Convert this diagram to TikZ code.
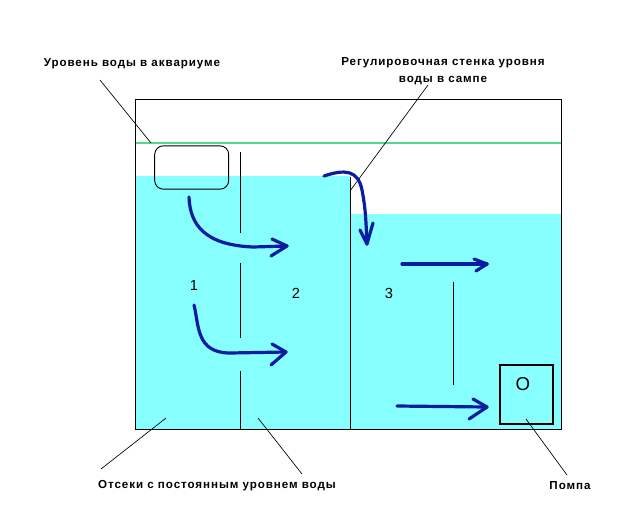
\documentclass[tikz,border=0pt]{standalone}
\usepackage{fontspec}
\setmainfont{Liberation Sans}
\newfontfamily\labelfont[LetterSpace=8]{Liberation Sans Bold}
\definecolor{water}{RGB}{136,255,255}
\definecolor{levelgreen}{RGB}{80,216,140}
\definecolor{flow}{RGB}{10,28,160}
\tikzset{
 px/.style={x=0.75pt,y=-0.75pt},
 thinline/.style={draw=black,line width=0.7pt},
 leader/.style={draw=black,line width=0.5pt},
 flowline/.style={draw=flow,line width=2.4pt,line cap=round,line join=round},
 caption/.style={font=\labelfont\fontsize{8.7pt}{10pt}\selectfont,text=black,inner sep=0pt,align=center},
 num/.style={font=\fontsize{11pt}{13pt}\selectfont,text=black,inner sep=0pt},
}
\begin{document}
\begin{tikzpicture}[px]
\useasboundingbox (0,0) rectangle (640,512);
% water
\fill[water] (136,176) rectangle (350,429);
\fill[water] (350,214) rectangle (561,429);
% tank
\draw[thinline] (135.5,99) rectangle (561,429);
\draw[levelgreen,line width=2pt] (136,143) -- (561,143);
\node[draw=black,line width=0.7pt,rounded corners=6.5pt,minimum width=55.5pt,minimum height=32.5pt,inner sep=0pt] (skimmer) at (191.7,167.5) {};
% partitions
\draw[thinline] (240.5,152) -- (240.5,233);
\draw[thinline] (240.5,263) -- (240.5,338);
\draw[thinline] (240.5,371) -- (240.5,429);
\draw[thinline] (350.5,177) -- (350.5,429);
\draw[thinline] (453.5,282) -- (453.5,385);
% pump
\node[draw=black,line width=1.3pt,minimum width=39.5pt,minimum height=44pt,inner sep=0pt] (pump) at (526.5,394.5) {};
\node[font=\fontsize{14pt}{16pt}\selectfont,inner sep=0pt] (pumpO) at (523,384) {O};
% numbers
\node[num] (n1) at (194,285) {1};
\node[num] (n2) at (296,293) {2};
\node[num] (n3) at (389,293) {3};
% captions
\node[caption] (capA) at (132,63.5) {Уровень воды в аквариуме};
\node[caption] (capB) at (443,71.5) {Регулировочная стенка уровня\\[2.7pt]воды в сампе};
\node[caption] (capC) at (217,485.5) {Отсеки с постоянным уровнем воды};
\node[caption] (capD) at (570,485.5) {Помпа};
% leaders
\coordinate (a0) at (100,80); \coordinate (a1) at (151,143);
\coordinate (b0) at (428,85); \coordinate (b1) at (350,191);
\coordinate (c0) at (101,469); \coordinate (c1) at (166,418);
\coordinate (d0) at (302,474); \coordinate (d1) at (258,418);
\coordinate (e0) at (567,475); \coordinate (e1) at (526,419);
\draw[leader] (a0)--(a1);
\draw[leader] (b0)--(b1);
\draw[leader] (c0)--(c1);
\draw[leader] (d0)--(d1);
\draw[leader] (e0)--(e1);
% flows
\draw[flowline] (189,197) .. controls (190,225) and (205,245) .. (253,247) -- (287,246);
\draw[flowline] (272,239) -- (287,246) -- (271,256);
\draw[flowline] (194,305) .. controls (199,325) and (196,353) .. (230,353) -- (286,352);
\draw[flowline] (272,344) -- (286,352) -- (271,365);
\draw[flowline] (324,176) .. controls (345,169) and (358,170) .. (362,190) .. controls (366,210) and (366,225) .. (367,244);
\draw[flowline] (360,230) -- (367,244) -- (373,223);
\draw[flowline] (402,264) -- (487,264);
\draw[flowline] (474,259) -- (487,264) -- (476,271);
\draw[flowline] (397,406) -- (487,407);
\draw[flowline] (473,399) -- (487,407) -- (469,419);
\end{tikzpicture}
\end{document}
